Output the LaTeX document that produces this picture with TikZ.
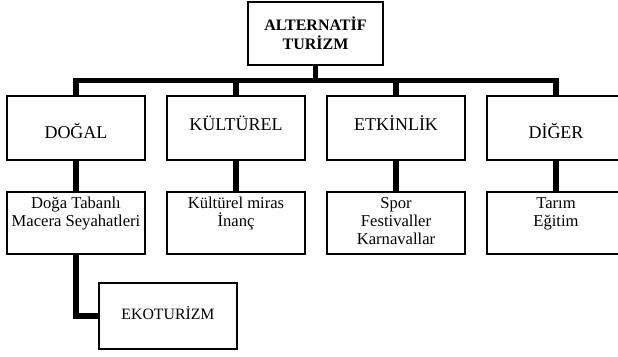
\documentclass[tikz,border=0pt]{standalone}
\usepackage{fontspec}
\setmainfont{Liberation Serif}
\begin{document}
\begin{tikzpicture}[x=1pt,y=-1pt,
  box/.style={draw,line width=1.4pt,inner sep=0pt,outer sep=0pt,anchor=north west,minimum width=138pt},
  conn/.style={line width=5.5pt,line join=miter},
  toptxt/.style={font=\fontsize{16}{19}\selectfont\bfseries,anchor=base,inner sep=0pt},
  cattxt/.style={font=\fontsize{18}{21}\selectfont,anchor=base,inner sep=0pt},
  subtxt/.style={font=\fontsize{16.6}{18}\selectfont,anchor=base,inner sep=0pt}
]
\useasboundingbox (0,0) rectangle (618,356);
% boxes
\node[box,minimum width=135pt,minimum height=63pt] (top) at (248,2) {};
\node[box,minimum height=64pt] (dogal) at (7,96) {};
\node[box,minimum height=64pt] (kult) at (167,96) {};
\node[box,minimum height=64pt] (etk) at (327,96) {};
\node[box,minimum height=64pt] (diger) at (487,96) {};
\node[box,minimum height=62pt] (dsub) at (7,192) {};
\node[box,minimum height=62pt] (ksub) at (167,192) {};
\node[box,minimum height=62pt] (esub) at (327,192) {};
\node[box,minimum height=62pt] (gsub) at (487,192) {};
\node[box,minimum height=66pt] (eko) at (99,283) {};
% connectors
\draw[conn] (top.south) -- ++(0,15.5) coordinate (bar) -| (dogal.north);
\draw[conn] (bar) -| (kult.north);
\draw[conn] (bar) -| (etk.north);
\draw[conn] (bar) -| (diger.north);
\draw[conn] (dogal.south) -- (dsub.north);
\draw[conn] (kult.south) -- (ksub.north);
\draw[conn] (etk.south) -- (esub.north);
\draw[conn] (diger.south) -- (gsub.north);
\draw[conn] (dsub.south) |- (eko.west);
% texts
\node[toptxt] (t1) at (315.5,30) {ALTERNATİF};
\node[toptxt] (t2) at (315.5,49) {TURİZM};
\node[cattxt] (c1) at (76,138) {DOĞAL};
\node[cattxt] (c2) at (236,130.5) {KÜLTÜREL};
\node[cattxt] (c3) at (396,130.5) {ETKİNLİK};
\node[cattxt] (c4) at (556,138) {DİĞER};
\node[subtxt] (s1a) at (76,208) {Doğa Tabanlı};
\node[subtxt] (s1b) at (76,226) {Macera Seyahatleri};
\node[subtxt] (s2a) at (236,208) {Kültürel miras};
\node[subtxt] (s2b) at (236,226) {İnanç};
\node[subtxt] (s3a) at (396,208) {Spor};
\node[subtxt] (s3b) at (396,226) {Festivaller};
\node[subtxt] (s3c) at (396,244) {Karnavallar};
\node[subtxt] (s4a) at (556,208) {Tarım};
\node[subtxt] (s4b) at (556,226) {Eğitim};
\node[font=\fontsize{15.8}{18}\selectfont,anchor=base,inner sep=0pt] (e1) at (168,319) {EKOTURİZM};
\end{tikzpicture}
\end{document}
